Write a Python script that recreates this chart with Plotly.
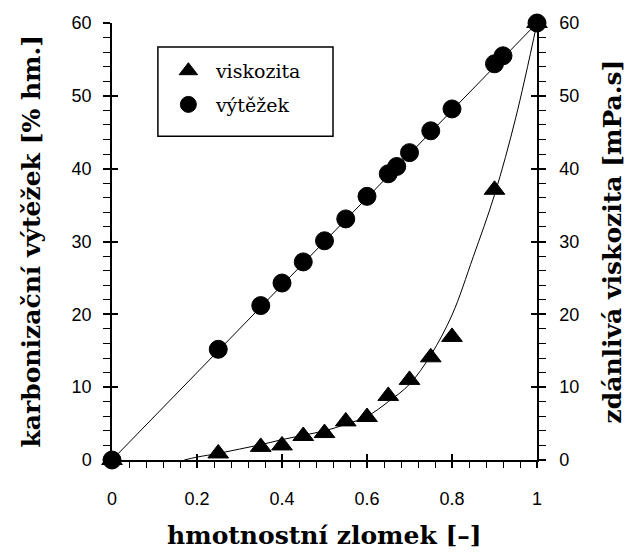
import plotly.graph_objects as go

# Carbonization yield (left axis) versus mass fraction
yield_x = [0.00, 0.25, 0.35, 0.40, 0.45, 0.50, 0.55, 0.60, 0.65, 0.67, 0.70, 0.75, 0.80, 0.90, 0.92, 1.00]
yield_y = [0.0, 15.2, 21.2, 24.3, 27.2, 30.1, 33.1, 36.2, 39.3, 40.3, 42.2, 45.2, 48.2, 54.4, 55.5, 60.0]

# Straight trend line of the yield
yield_trend_x = [0.0, 1.0]
yield_trend_y = [0.0, 60.0]

# Apparent viscosity (right axis) versus mass fraction
visc_x = [0.00, 0.25, 0.35, 0.40, 0.45, 0.50, 0.55, 0.60, 0.65, 0.70, 0.75, 0.80, 0.90, 1.00]
visc_y = [0.0, 0.9, 1.8, 2.0, 3.3, 3.7, 5.3, 5.9, 8.8, 11.0, 14.1, 16.9, 37.1, 60.0]

# Smooth fitted viscosity curve
visc_fit_x = [0.17, 0.20, 0.25, 0.30, 0.35, 0.40, 0.45, 0.50, 0.55, 0.60, 0.65, 0.70, 0.75, 0.80, 0.85, 0.90, 0.95, 1.00]
visc_fit_y = [0.0, 0.4, 0.9, 1.5, 2.1, 2.8, 3.4, 4.0, 4.9, 6.0, 8.0, 10.4, 14.4, 19.9, 27.9, 36.4, 47.0, 60.0]

x_ticks = [0, 0.2, 0.4, 0.6, 0.8, 1]
x_tick_text = ["0", "0.2", "0.4", "0.6", "0.8", "1"]
y_ticks = [0, 10, 20, 30, 40, 50, 60]

TICK_FONT = dict(family="Liberation Sans Narrow, Arial Narrow, Liberation Sans, Arial", size=18, color="black")
TITLE_FONT = dict(family="DejaVu Serif, Liberation Serif, serif", size=25, color="black")
LEGEND_FONT = dict(family="DejaVu Serif, Liberation Serif, serif", size=19, color="black")

fig = go.Figure()

fig.add_trace(go.Scatter(
    x=yield_trend_x, y=yield_trend_y, mode="lines",
    line=dict(color="black", width=1), showlegend=False, hoverinfo="skip"))
fig.add_trace(go.Scatter(
    x=visc_fit_x, y=visc_fit_y, mode="lines", yaxis="y2",
    line=dict(color="black", width=1, shape="spline", smoothing=1.0),
    showlegend=False, hoverinfo="skip"))

fig.add_trace(go.Scatter(
    x=visc_x, y=visc_y, mode="markers", name="viskozita", yaxis="y2",
    legendgroup="a", cliponaxis=False,
    marker=dict(symbol="triangle-up", size=18, color="black", line=dict(color="black", width=1))))
fig.add_trace(go.Scatter(
    x=yield_x, y=yield_y, mode="markers", name="výtěžek",
    legendgroup="b", cliponaxis=False,
    marker=dict(symbol="circle", size=18, color="black", line=dict(color="black", width=1))))

# Empty helpers so the overlay axes carrying inward major ticks are drawn
fig.add_trace(go.Scatter(x=[None], y=[None], xaxis="x2", yaxis="y3", showlegend=False, hoverinfo="skip"))
fig.add_trace(go.Scatter(x=[None], y=[None], xaxis="x", yaxis="y4", showlegend=False, hoverinfo="skip"))

common_y = dict(range=[0, 60], tickvals=y_ticks, showgrid=False, zeroline=False, fixedrange=True)

fig.update_layout(
    width=628, height=556,
    margin=dict(l=112, r=91, t=23, b=96),
    paper_bgcolor="white", plot_bgcolor="white",
    showlegend=True,
    legend=dict(
        x=0.115, y=0.934, xanchor="left", yanchor="top",
        bgcolor="rgba(0,0,0,0)", borderwidth=0,
        font=LEGEND_FONT, tracegroupgap=6, traceorder="grouped",
        itemwidth=45, itemsizing="trace"),
    # Legend frame
    shapes=[dict(type="rect", xref="paper", yref="paper",
                 x0=0.108, x1=0.52, y0=0.741, y1=0.945,
                 line=dict(color="black", width=1.5), fillcolor="rgba(0,0,0,0)", layer="above")],
    xaxis=dict(
        range=[0, 1], tickvals=x_ticks, ticktext=x_tick_text,
        showline=True, linecolor="black", linewidth=1.5,
        ticks="outside", ticklen=6, tickwidth=1.5, tickcolor="black",
        minor=dict(dtick=0.04, ticks="outside", ticklen=6, tickwidth=1, tickcolor="black"),
        tickfont=TICK_FONT, ticklabelstandoff=16,
        showgrid=False, zeroline=False, fixedrange=True),
    xaxis2=dict(
        range=[0, 1], tickvals=x_ticks, overlaying="x", anchor="y", side="bottom",
        ticks="inside", ticklen=6, tickwidth=1.5, tickcolor="black",
        showticklabels=False, showline=False, showgrid=False, zeroline=False),
    yaxis=dict(
        **common_y, side="left",
        showline=True, linecolor="black", linewidth=1.5,
        ticks="outside", ticklen=7, tickwidth=1.5, tickcolor="black",
        minor=dict(dtick=2, ticks="outside", ticklen=7, tickwidth=1, tickcolor="black"),
        tickfont=TICK_FONT, ticklabelstandoff=8),
    yaxis2=dict(
        **common_y, overlaying="y", side="right", anchor="x",
        showline=True, linecolor="black", linewidth=1.5,
        ticks="outside", ticklen=7, tickwidth=1.5, tickcolor="black",
        minor=dict(dtick=2, ticks="outside", ticklen=7, tickwidth=1, tickcolor="black"),
        tickfont=TICK_FONT, ticklabelstandoff=10),
    yaxis3=dict(
        **common_y, overlaying="y", side="left", anchor="x2",
        ticks="inside", ticklen=6, tickwidth=1.5, tickcolor="black",
        showticklabels=False, showline=False),
    yaxis4=dict(
        **common_y, overlaying="y", side="right", anchor="x",
        ticks="inside", ticklen=6, tickwidth=1.5, tickcolor="black",
        showticklabels=False, showline=False),
)

# Axis titles
fig.add_annotation(text="<b>karbonizační výtěžek [% hm.]</b>", xref="paper", yref="paper",
                   x=0, y=0.5, xshift=-81, textangle=-90, showarrow=False,
                   xanchor="center", yanchor="middle", font=TITLE_FONT)
fig.add_annotation(text="<b>zdánlivá viskozita [mPa.s]</b>", xref="paper", yref="paper",
                   x=1, y=0.5, xshift=75, textangle=-90, showarrow=False,
                   xanchor="center", yanchor="middle", font=TITLE_FONT)
fig.add_annotation(text="<b>hmotnostní zlomek [–]</b>", xref="paper", yref="paper",
                   x=0.5, y=0, yshift=-75, showarrow=False,
                   xanchor="center", yanchor="middle", font=TITLE_FONT)

fig.write_html("out.html")
